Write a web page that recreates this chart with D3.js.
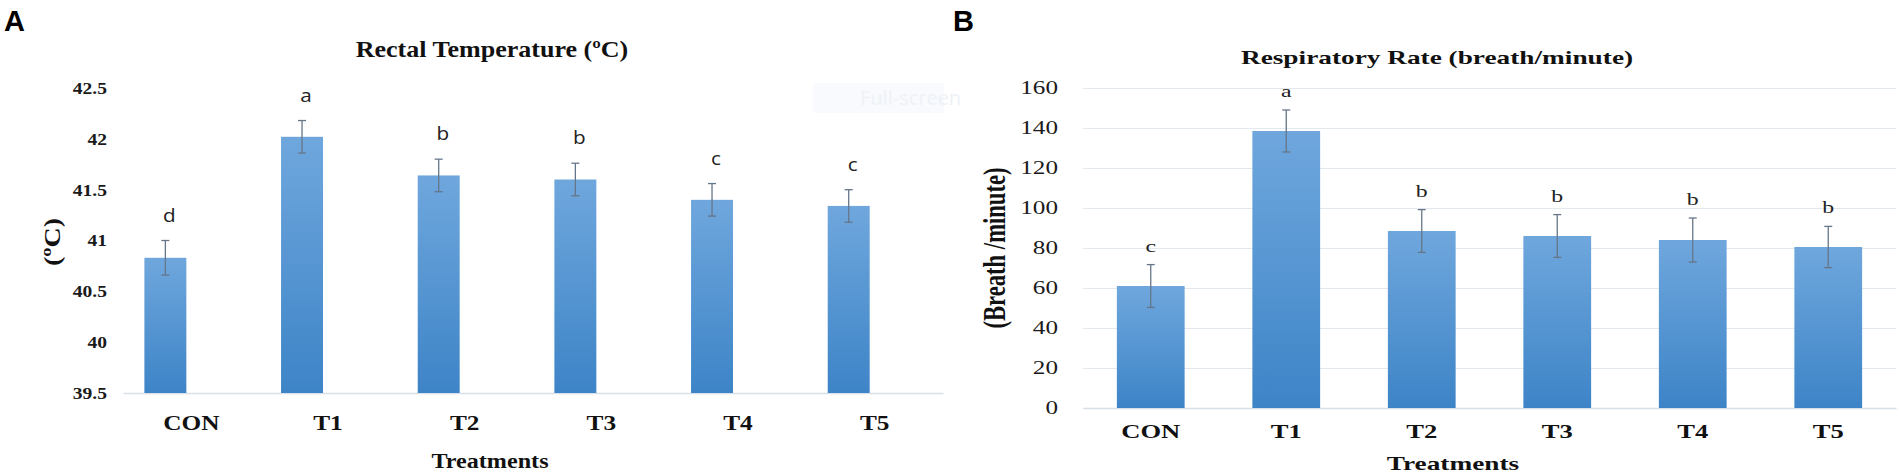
<!DOCTYPE html>
<html>
<head>
<meta charset="utf-8">
<script src="https://cdn.jsdelivr.net/npm/d3@7"></script>
<style>
  body { margin: 0; background: #fff; }
</style>
</head>
<body>
<script>
// categories
const treatments = ['CON', 'T1', 'T2', 'T3', 'T4', 'T5'];

// A - rectal temperature (ºC)
const rectalMean = [40.83, 42.02, 41.64, 41.60, 41.40, 41.34];
const rectalErr = [0.17, 0.16, 0.16, 0.16, 0.16, 0.16];
const rectalLetters = ['d', 'a', 'b', 'b', 'c', 'c'];
const rectalTicks = [39.5, 40, 40.5, 41, 41.5, 42, 42.5];

// B - respiratory rate (breath/minute)
const respMean = [61, 138.5, 88.5, 86, 84, 80.5];
const respErr = [10.7, 10.5, 10.7, 10.7, 11, 10.3];
const respLetters = ['c', 'a', 'b', 'b', 'b', 'b'];
const respTicks = [0, 20, 40, 60, 80, 100, 120, 140, 160];

const W = 1902, H = 476;
const serif = '"Liberation Serif", "Times New Roman", serif';
const sans = '"Liberation Sans", Arial, sans-serif';

const svg = d3.select('body').append('svg')
  .attr('width', W)
  .attr('height', H);

const grad = svg.append('defs').append('linearGradient')
  .attr('id', 'barFill')
  .attr('x1', 0).attr('y1', 0).attr('x2', 0).attr('y2', 1);
grad.append('stop').attr('offset', '0%').attr('stop-color', '#6fa7dd');
grad.append('stop').attr('offset', '100%').attr('stop-color', '#3d84c7');

// text with a horizontal stretch (the source figure is stretched sideways)
function addText(g, x, y, str, o) {
  const t = g.append('text')
    .attr('transform', `translate(${x},${y}) scale(${o.sx || 1},1)` + (o.rotate ? ` rotate(${o.rotate})` : ''))
    .attr('text-anchor', o.anchor || 'middle')
    .attr('font-family', o.family || serif)
    .attr('font-size', o.size)
    .attr('font-weight', o.weight || 'normal')
    .attr('fill', o.fill || '#111')
    .text(str);
  if (o.len) t.attr('textLength', o.len).attr('lengthAdjust', 'spacingAndGlyphs');
  return t;
}

function drawPanel(p) {
  const g = svg.append('g');

  const x = d3.scaleBand().domain(treatments).range([p.x0, p.x1]).padding(0);
  const y = d3.scaleLinear().domain(p.domain).range([p.yBase, p.yTop]);
  const bw = x.bandwidth();

  // y axis (labels + optional gridlines)
  const yAxis = d3.axisLeft(y)
    .tickValues(p.ticks)
    .tickSize(p.grid ? -(p.x1 - p.x0) : 0)
    .tickPadding(p.tickPad)
    .tickFormat(d => String(d));
  const ga = g.append('g').attr('transform', `translate(${p.x0},0)`).call(yAxis);
  ga.select('.domain').remove();
  ga.selectAll('.tick line').attr('stroke', '#e3e8ef').attr('stroke-width', 1.2);
  ga.selectAll('.tick text')
    .attr('x', -p.tickPad / p.sx)
    .attr('transform', `scale(${p.sx},1)`)
    .attr('font-family', serif)
    .attr('font-size', p.tickSize)
    .attr('font-weight', p.tickWeight)
    .attr('fill', '#1a1a1a');

  // x axis
  const xAxis = d3.axisBottom(x).tickSize(0).tickSizeOuter(0);
  const gx = g.append('g').attr('transform', `translate(0,${p.yBase})`).call(xAxis);
  gx.select('.domain').attr('stroke', '#d8dfe8').attr('stroke-width', 1.5);
  gx.selectAll('.tick text')
    .attr('dy', null)
    .attr('y', p.catOffset)
    .attr('transform', `scale(${p.sx},1)`)
    .attr('font-family', serif)
    .attr('font-size', p.catSize)
    .attr('font-weight', 'bold')
    .attr('fill', '#111');

  const cx = c => x(c) + bw / 2 + p.barShift * bw;

  // bars
  g.append('g').selectAll('rect')
    .data(p.values)
    .join('rect')
    .attr('x', (d, i) => cx(treatments[i]) - p.barFrac * bw / 2)
    .attr('width', p.barFrac * bw)
    .attr('y', d => y(d))
    .attr('height', d => p.yBase - y(d))
    .attr('fill', 'url(#barFill)');

  // error bars
  const eb = g.append('g').attr('stroke', '#667689').attr('stroke-width', 1.3);
  p.values.forEach((v, i) => {
    const c = cx(treatments[i]);
    const hi = y(v + p.errors[i]), lo = y(v - p.errors[i]);
    eb.append('line').attr('x1', c).attr('x2', c).attr('y1', hi).attr('y2', lo);
    eb.append('line').attr('x1', c - 4).attr('x2', c + 4).attr('y1', hi).attr('y2', hi);
    eb.append('line').attr('x1', c - 4).attr('x2', c + 4).attr('y1', lo).attr('y2', lo);
  });

  // significance letters
  p.letters.forEach((l, i) => {
    const top = y(p.values[i] + p.errors[i]);
    addText(g, cx(treatments[i]) + p.letterDx, top - p.letterGap, l, {
      sx: p.sx, size: p.letterSize, family: p.letterFamily, fill: '#222'
    });
  });

  // titles
  addText(g, p.titleX, p.titleY, p.title, { sx: p.sx, size: p.titleSize, weight: 'bold', len: p.titleLen });
  addText(g, p.xTitleX, p.xTitleY, 'Treatments', { sx: p.sx, size: p.xTitleSize, weight: 'bold' });
  addText(g, p.yTitleX, p.yTitleY, p.yTitle, {
    sx: p.sx, size: p.yTitleSize, weight: 'bold', rotate: -90, len: p.yTitleLen
  });
  addText(g, p.tagX, 31, p.tag, { anchor: 'start', size: 29, weight: 'bold', family: sans, fill: '#000' });
  return g;
}

const gA = drawPanel({
  tag: 'A', tagX: 4,
  values: rectalMean, errors: rectalErr, letters: rectalLetters, ticks: rectalTicks,
  domain: [39.5, 42.5], x0: 123, x1: 943, yBase: 393, yTop: 88,
  sx: 1.15, grid: false,
  tickPad: 16, tickSize: 17, tickWeight: 'bold',
  catOffset: 37, catSize: 22,
  barFrac: 0.307, barShift: -0.19,
  letterDx: 4, letterGap: 19, letterSize: 18, letterFamily: '"Open Sans", sans-serif',
  title: 'Rectal Temperature (ºC)', titleX: 492, titleY: 57, titleSize: 22.5, titleLen: 237,
  xTitleX: 490, xTitleY: 468, xTitleSize: 21,
  yTitle: '(ºC)', yTitleX: 60, yTitleY: 242, yTitleSize: 20, yTitleLen: 48
});

// faint "Full-screen" button left over in the source image
gA.append('rect').attr('x', 813).attr('y', 83).attr('width', 131).attr('height', 30).attr('fill', '#f8fafd');
addText(gA, 860, 105, 'Full-screen', { anchor: 'start', size: 20, family: '"Open Sans", sans-serif', fill: '#eef2f7' });

drawPanel({
  tag: 'B', tagX: 953,
  values: respMean, errors: respErr, letters: respLetters, ticks: respTicks,
  domain: [0, 160], x0: 1083, x1: 1896, yBase: 408, yTop: 88,
  sx: 1.4, grid: true,
  tickPad: 25, tickSize: 18, tickWeight: 'normal',
  catOffset: 30, catSize: 19,
  barFrac: 0.5, barShift: 0,
  letterDx: 0, letterGap: 13, letterSize: 17, letterFamily: serif,
  title: 'Respiratory Rate (breath/minute)', titleX: 1437, titleY: 64, titleSize: 19.5,
  xTitleX: 1453, xTitleY: 470, xTitleSize: 19.5,
  yTitle: '(Breath /minute)', yTitleX: 1005, yTitleY: 248, yTitleSize: 22, yTitleLen: 161
});
</script>
</body>
</html>
